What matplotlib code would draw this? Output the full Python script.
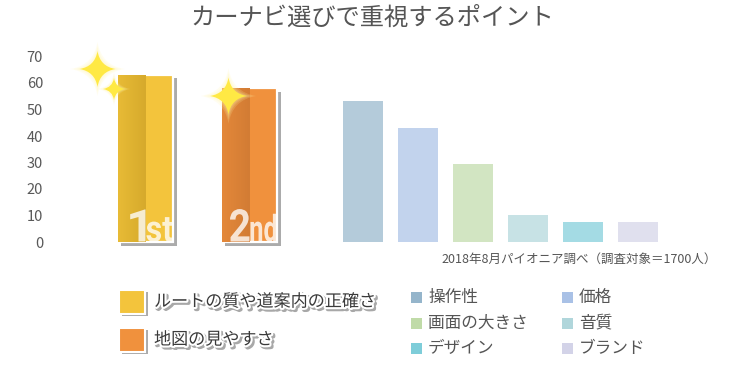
import matplotlib
matplotlib.use('Agg')

import numpy as np
import matplotlib.pyplot as plt
import matplotlib.patheffects as pe
from matplotlib.patches import Rectangle, PathPatch
from matplotlib.path import Path
from matplotlib.textpath import TextPath
from matplotlib.font_manager import FontProperties
from matplotlib.transforms import Affine2D
from matplotlib.colors import LinearSegmentedColormap

plt.rcParams['font.family'] = ['Noto Sans CJK JP', 'DejaVu Sans']

# data
title = 'カーナビ選びで重視するポイント'
note = '2018年8月パイオニア調べ（調査対象＝1700人）'
top_labels = ['ルートの質や道案内の正確さ', '地図の見やすさ']
top_values = [63.2, 58.1]
top_ranks = [('1', 'st'), ('2', 'nd')]
other_labels = ['操作性', '価格', '画面の大きさ', '音質', 'デザイン', 'ブランド']
other_values = [53.2, 43.0, 29.4, 10.3, 7.5, 7.5]
yticks = [0, 10, 20, 30, 40, 50, 60, 70]

top_colors = ['#F3C43C', '#F0913D']
top_dark = ['#D6AA2C', '#D27C34']
top_mid = ['#E8BB36', '#E4883A']
other_colors = ['#95B5CB', '#A9C1E6', '#C0DBA8', '#B0D6DB', '#7ECDD9', '#D3D3E8']

W, H = 750, 373
Y0 = 242.0      # pixel row of value 0
PPU = 2.65      # pixels per value unit

fig = plt.figure(figsize=(W / 100, H / 100), dpi=100)
ax = fig.add_axes([0, 0, 1, 1])
ax.set_xlim(0, W)
ax.set_ylim((Y0 - H) / PPU, Y0 / PPU)
for s in ['top', 'right', 'bottom']:
    ax.spines[s].set_visible(False)
ax.spines['left'].set_position(('data', 43))
ax.spines['left'].set_visible(False)
ax.set_yticks(yticks)
ax.tick_params(axis='y', length=0, pad=0, labelsize=10.5, labelcolor='#595959')
ax.set_xticks([])
ax.patch.set_alpha(0)

top_x = [145, 249]
other_x = [363, 418, 473, 528, 583, 638]
big_w, small_w = 56, 40

# big bars with shadow and shading
for i, v in enumerate(top_values):
    x0 = top_x[i] - big_w / 2
    ax.add_patch(Rectangle((x0 + 4, -3.5 / PPU), big_w, v, facecolor='#ABABAB',
                           edgecolor='none', zorder=1))
    ax.add_patch(Rectangle((x0, 0), big_w, v, facecolor=top_colors[i],
                           edgecolor='white', linewidth=1.6, zorder=2))
    cmap = LinearSegmentedColormap.from_list('g', [top_mid[i], top_dark[i]])
    grad = np.linspace(0, 1, 64).reshape(1, -1)
    ax.imshow(grad, cmap=cmap, aspect='auto', zorder=3,
              extent=[x0 + 0.8, top_x[i], 0, v - 0.3])

ax.set_xlim(0, W)
ax.set_ylim((Y0 - H) / PPU, Y0 / PPU)

ax.bar(other_x, other_values, width=small_w, color=other_colors, alpha=0.7,
       edgecolor='none', zorder=2)

# overlay in pixel coordinates
deco = fig.add_axes([0, 0, 1, 1])
deco.set_xlim(0, W)
deco.set_ylim(H, 0)
deco.axis('off')
deco.patch.set_alpha(0)

# condensed "1st" / "2nd" marks inside the big bars
fp = FontProperties(family='Roboto', weight='bold')
for i, (big, small) in enumerate(top_ranks):
    right = top_x[i] + big_w / 2 - 0.5
    p_small = TextPath((0, 0), small, size=37, prop=fp)
    e = p_small.get_extents()
    sx = 26.0 / (e.x1 - e.x0)
    tr = Affine2D().translate(-e.x1, 0).scale(sx, -1).translate(right, Y0 - 0.5)
    deco.add_patch(PathPatch(tr.transform_path(p_small), facecolor='white',
                             edgecolor='none', alpha=0.78, zorder=6))
    left_small = right - 26.0
    p_big = TextPath((0, 0), big, size=45, prop=fp)
    e2 = p_big.get_extents()
    bx = min(19.5 / (e2.x1 - e2.x0), 1.1)
    tr2 = Affine2D().translate(-e2.x1, 0).scale(bx, -1).translate(left_small - 1.0, Y0 - 0.5)
    deco.add_patch(PathPatch(tr2.transform_path(p_big), facecolor='white',
                             edgecolor='none', alpha=0.78, zorder=6))


def star(cx, cy, r, color, alpha=1.0, z=5):
    k = 0.14 * r
    verts = [(cx, cy - r), (cx + k, cy - k), (cx + r, cy), (cx + k, cy + k),
             (cx, cy + r), (cx - k, cy + k), (cx - r, cy), (cx - k, cy - k),
             (cx, cy - r)]
    codes = [Path.MOVETO] + [Path.CURVE3] * 8
    deco.add_patch(PathPatch(Path(verts, codes), facecolor=color,
                             edgecolor='none', alpha=alpha, zorder=z))


for cx, cy, r in [(97.5, 69, 18), (114, 89, 11), (228.5, 96, 18.5)]:
    for g in [1.5, 1.3, 1.15]:
        star(cx, cy, r * g, '#FFF6A8', alpha=0.18, z=4)
    star(cx, cy, r, '#FFE944')

deco.text(372, 18, title, ha='center', va='center', fontsize=17.5, color='#555555')
deco.text(717, 259, note, ha='right', va='center', fontsize=9, color='#555555')

# left legend
shadow_fx = [pe.Stroke(linewidth=3, foreground='#A8A8A8', offset=(1.5, -1.5)),
             pe.Stroke(linewidth=3, foreground='white'), pe.Normal()]
for i, lab in enumerate(top_labels):
    yc = 301.5 + i * 38
    deco.add_patch(Rectangle((122, yc - 9.5), 26, 24, facecolor='#ABABAB',
                             edgecolor='none', zorder=2))
    deco.add_patch(Rectangle((119, yc - 12), 26, 24, facecolor=top_colors[i],
                             edgecolor='white', linewidth=1.5, zorder=3))
    deco.text(154, yc, lab, ha='left', va='center', fontsize=12.3,
              color='#3A3A3A', path_effects=shadow_fx, zorder=4)

# right legend
for i, lab in enumerate(other_labels):
    col, row = i % 2, i // 2
    sx = 411 + col * 151
    yc = 297.5 + row * 25.5
    deco.add_patch(Rectangle((sx, yc - 5.5), 11, 11, facecolor=other_colors[i],
                             edgecolor='none'))
    deco.text(sx + 17, yc, lab, ha='left', va='center', fontsize=12,
              color='#555555')

fig.savefig('out.png', dpi=100)
